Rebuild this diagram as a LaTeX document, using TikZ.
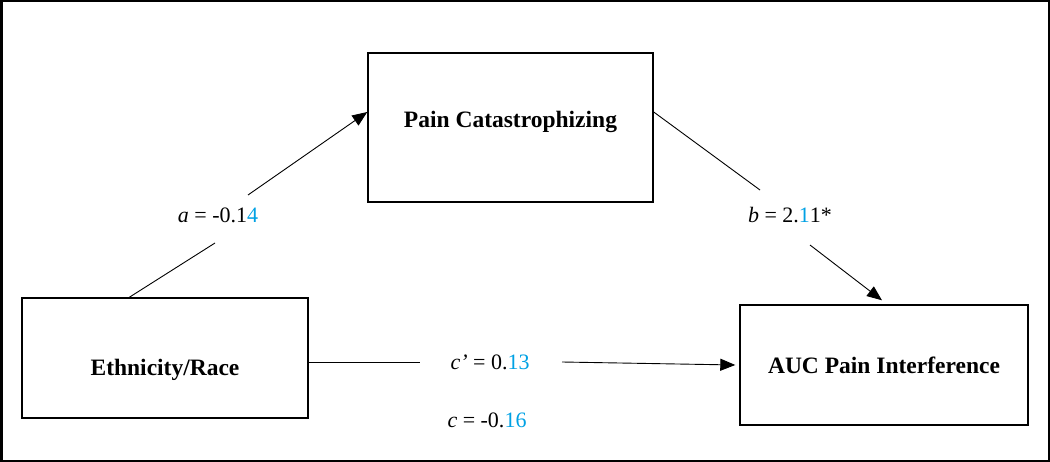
\documentclass[tikz,border=0pt]{standalone}
\usepackage{fontspec}
\setmainfont{Liberation Serif}
\usetikzlibrary{positioning, arrows.meta}
\definecolor{numblue}{RGB}{0,161,228}
\newcommand{\hl}[1]{\textcolor{numblue}{#1}}

\begin{document}
\begin{tikzpicture}[
        x=1pt, y=-1pt,
        var/.style  = {draw, line width=1.4pt, inner sep=0pt, align=center, font=\fontsize{23.5}{28}\selectfont\bfseries},
        coef/.style = {inner sep=1pt, font=\fontsize{22}{26}\selectfont},
        conn/.style = {line width=0.9pt},
        arrow/.style = {-{Triangle[length=15pt, width=12pt]}, line width=0.9pt},
    ]
        % Frame
        \useasboundingbox (0,0) rectangle (1050,462);
        \draw[line width=2.5pt] (1.25,1.25) rectangle (1048.75,460.75);
        % Variables
        \node[var, minimum width=285pt, minimum height=149pt, text height=16.5pt, text depth=17pt] (pain) at (510.5,127.5) {Pain Catastrophizing};
        \node[var, minimum width=286pt, minimum height=120pt, text height=40pt, text depth=5pt] (eth) at (165,358) {Ethnicity/Race};
        \node[var, minimum width=288pt, minimum height=120pt, text height=22.5pt, text depth=5pt] (auc) at (884,365) {AUC Pain Interference};
        % Coefficients
        \node[coef] (alab) at (218,215) {\textit{a} = -0.1\hl{4}};
        \node[coef] (blab) at (790,215) {\textit{b} = 2.\hl{1}1*};
        \node[coef] (cplab) at (490,362) {\textit{c’} = 0.\hl{13}};
        \node[coef] (clab) at (487,420) {\textit{c} = -0.\hl{16}};
        % Break points
        \coordinate (a1) at (215,243);
        \coordinate (a2) at (248,195);
        \coordinate (b1) at (760,190);
        \coordinate (b2) at (810,245);
        \coordinate (c1) at (420,362);
        \coordinate (c2) at (562,362);

        % Paths
        \draw[conn] ([xshift=108pt]eth.north west) -- (a1);
        \draw[arrow] (a2) -- ([yshift=15.5pt]pain.west);
        \draw[conn] ([yshift=15.5pt]pain.east) -- (b1);
        \draw[arrow] (b2) -- ([xshift=-2pt, yshift=4pt]auc.north);
        \draw[conn] ([yshift=-4pt]eth.east) -- (c1);
        \draw[arrow] (c2) -- ([xshift=-4pt]auc.west);
    \end{tikzpicture}
\end{document}
